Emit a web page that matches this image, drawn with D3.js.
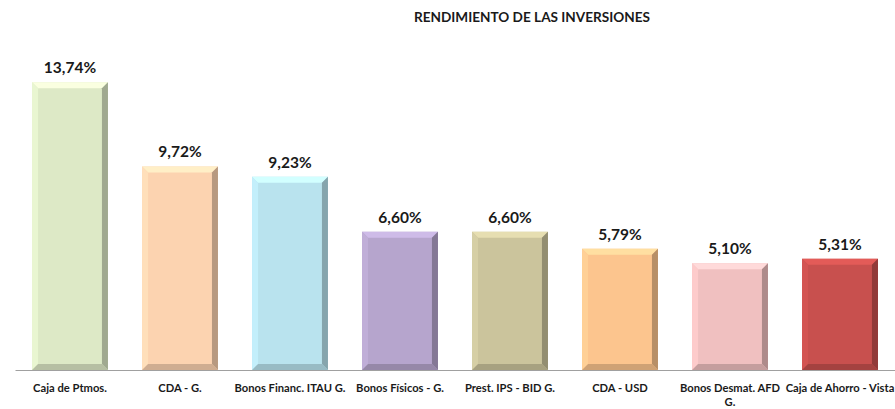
<!DOCTYPE html>
<html>
<head>
<meta charset="utf-8">
<script src="https://cdn.jsdelivr.net/npm/d3@7"></script>
<style>
  body { margin: 0; background: #fff; }
  text { font-family: Lato, "Open Sans", sans-serif; font-weight: bold; fill: #1a1a1a; }
</style>
</head>
<body>
<script>
// Data
const categories = ["Caja de Ptmos.", "CDA - G.", "Bonos Financ. ITAU G.", "Bonos Físicos - G.",
  "Prest. IPS - BID G.", "CDA - USD", "Bonos Desmat. AFD\nG.", "Caja de Ahorro - Vista"];
const values = [13.74, 9.72, 9.23, 6.60, 6.60, 5.79, 5.10, 5.31];
const colors = ["#dde9c6", "#fcd3b0", "#b9e3ee", "#b6a5cd", "#cbc49c", "#fcc58e", "#f0c0c0", "#c8504e"];

const W = 895, H = 409;
const margin = { top: 35, right: 0, bottom: 39, left: 15 };

const svg = d3.select("body").append("svg")
    .attr("width", W)
    .attr("height", H);

const x = d3.scaleBand()
    .domain(categories)
    .range([margin.left, W - margin.right])
    .paddingInner(0.31)
    .paddingOuter(0.155);

const y = d3.scaleLinear()
    .domain([0, 16])
    .range([H - margin.bottom, margin.top]);

// Title
svg.append("text")
    .attr("x", 532)
    .attr("y", 22)
    .attr("text-anchor", "middle")
    .style("font-size", "13.6px")
    .text("RENDIMIENTO DE LAS INVERSIONES");

// Bars with bevel edges
const bev = 6;
const bars = svg.selectAll(".bar")
    .data(values)
    .enter().append("g")
    .attr("class", "bar");

bars.each(function(v, i) {
    const g = d3.select(this);
    const x0 = x(categories[i]), x1 = x0 + x.bandwidth();
    const y0 = y(v), y1 = y(0);
    const c = d3.color(colors[i]);
    g.append("rect")
        .attr("x", x0).attr("y", y0)
        .attr("width", x1 - x0).attr("height", y1 - y0)
        .attr("fill", c);
    // top
    g.append("polygon")
        .attr("points", [[x0, y0], [x1, y0], [x1 - bev, y0 + bev], [x0 + bev, y0 + bev]].join(" "))
        .attr("fill", c.brighter(0.35));
    // left
    g.append("polygon")
        .attr("points", [[x0, y0], [x0 + bev, y0 + bev], [x0 + bev, y1 - bev], [x0, y1]].join(" "))
        .attr("fill", c.brighter(0.15));
    // right
    g.append("polygon")
        .attr("points", [[x1, y0], [x1 - bev, y0 + bev], [x1 - bev, y1 - bev], [x1, y1]].join(" "))
        .attr("fill", c.darker(0.9));
    // bottom
    g.append("polygon")
        .attr("points", [[x0, y1], [x0 + bev, y1 - bev], [x1 - bev, y1 - bev], [x1, y1]].join(" "))
        .attr("fill", c.darker(0.55));
});

// Value labels
svg.selectAll(".val")
    .data(values)
    .enter().append("text")
    .attr("class", "val")
    .attr("x", (d, i) => x(categories[i]) + x.bandwidth() / 2)
    .attr("y", d => y(d) - 9)
    .attr("text-anchor", "middle")
    .style("font-size", "15.5px")
    .text(d => d.toFixed(2).replace(".", ",") + "%");

// X axis
const xAxis = svg.append("g")
    .attr("transform", "translate(0," + y(0) + ")")
    .call(d3.axisBottom(x).tickSize(0).tickPadding(0));

xAxis.select(".domain").attr("stroke", "#a0a0a0");
xAxis.selectAll(".tick text").remove();
xAxis.selectAll(".tick").each(function(d) {
    const t = d3.select(this).append("text")
        .attr("text-anchor", "middle")
        .attr("y", 22)
        .style("font-size", "11.2px");
    d.split("\n").forEach((line, k) => {
        t.append("tspan").attr("x", 0).attr("dy", k ? 14 : 0).text(line);
    });
});
</script>
</body>
</html>
